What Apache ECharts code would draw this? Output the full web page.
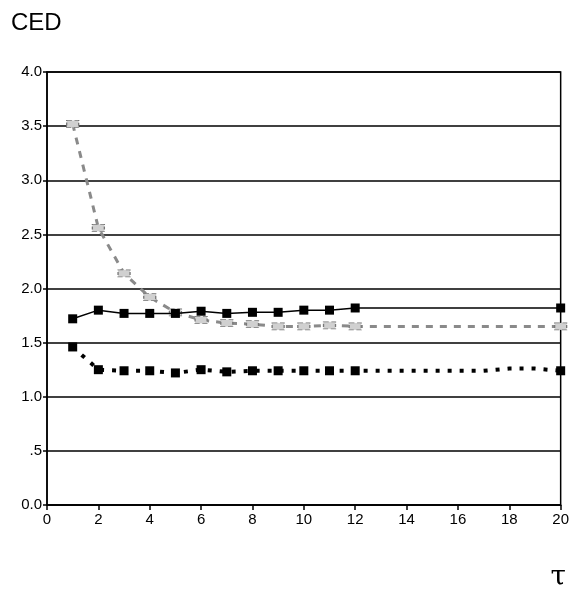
<!DOCTYPE html>
<html><head><meta charset="utf-8">
<script src="https://cdn.jsdelivr.net/npm/echarts@6/dist/echarts.min.js"></script>
<style>html,body{margin:0;padding:0;background:#fff}#c{width:572px;height:594px}</style>
</head><body><div id="c"></div>
<script>
// tau values
const tauSolid = [1,2,3,4,5,6,7,8,9,10,11,12,20];
const cedSolid = [1.72,1.80,1.77,1.77,1.77,1.79,1.77,1.78,1.78,1.80,1.80,1.82,1.82];
const tauDotted = [1,2,3,4,5,6,7,8,9,10,11,12,17,18,19,20];
const cedDotted = [1.46,1.25,1.24,1.24,1.22,1.25,1.23,1.24,1.24,1.24,1.24,1.24,1.24,1.26,1.26,1.24];
const dottedMarked = [true,true,true,true,true,true,true,true,true,true,true,true,false,false,false,true];
const tauGray = [1,2,3,4,5,6,7,8,9,10,11,12,20];
const cedGray = [3.52,2.56,2.14,1.92,1.78,1.71,1.68,1.67,1.65,1.65,1.66,1.65,1.65];
const yTicks = ['0.0','.5','1.0','1.5','2.0','2.5','3.0','3.5','4.0'];

const chart = echarts.init(document.getElementById('c'));
chart.setOption({
  animation:false,
  grid:{left:47,right:7,top:72,bottom:89,show:true,borderColor:'#000',borderWidth:1.5,backgroundColor:'transparent'},
  title:{text:'CED',left:6,top:6,textStyle:{fontFamily:'Liberation Sans',fontSize:24,fontWeight:'normal',color:'#000'}},
  graphic:[{type:'text',right:6,bottom:2,style:{text:'τ',font:'28px "DejaVu Serif"',fill:'#000'}}],
  xAxis:{type:'value',min:0,max:20,interval:2,
    axisLine:{show:true,lineStyle:{color:'#000',width:1.5}},
    axisTick:{show:true,length:5,lineStyle:{color:'#000',width:1.5}},
    axisLabel:{color:'#000',fontFamily:'Liberation Sans',fontSize:15,margin:7},
    splitLine:{show:false}},
  yAxis:{type:'value',min:0,max:4,interval:0.5,
    axisLine:{show:true,lineStyle:{color:'#000',width:1.5}},
    axisTick:{show:true,length:4,lineStyle:{color:'#000',width:1.5}},
    axisLabel:{color:'#000',fontFamily:'Liberation Sans',fontSize:15,margin:5,
      formatter:v=>yTicks[Math.round(v*2)]},
    splitLine:{show:true,lineStyle:{color:'#000',width:1.5}}},
  series:[
    {type:'line',data:tauGray.map((t,i)=>[t,cedGray[i]]),symbol:'rect',symbolSize:[12,7],
      itemStyle:{color:'#d0d0d0',borderColor:'#777',borderWidth:1,borderType:'dashed'},
      lineStyle:{color:'#8a8a8a',width:3,type:[7,7]},z:2},
    {type:'line',data:tauSolid.map((t,i)=>[t,cedSolid[i]]),symbol:'rect',symbolSize:9,
      itemStyle:{color:'#000'},lineStyle:{color:'#000',width:1.5},z:3},
    {type:'line',data:tauDotted.map((t,i)=>({value:[t,cedDotted[i]],symbol:dottedMarked[i]?'rect':'none'})),symbol:'rect',symbolSize:9,
      itemStyle:{color:'#000'},lineStyle:{color:'#000',width:4,type:[4,8],cap:'butt'},z:3}
  ]
});
</script></body></html>
